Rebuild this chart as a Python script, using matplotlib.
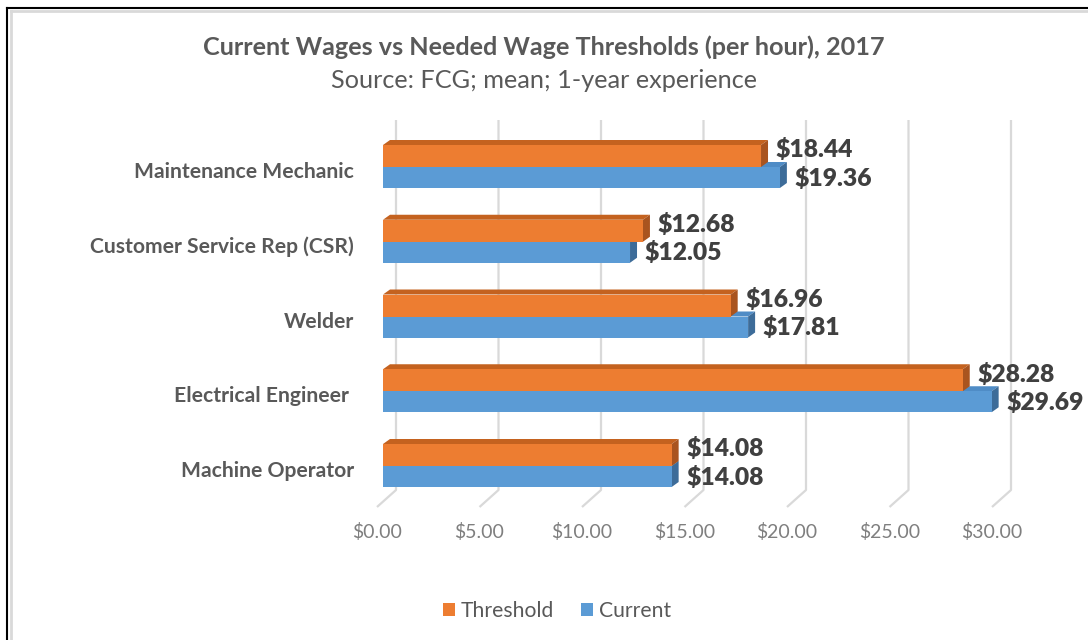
import numpy as np
import matplotlib
matplotlib.use("Agg")
import matplotlib.pyplot as plt
from matplotlib.patches import Polygon
from matplotlib.lines import Line2D

plt.rcParams["font.family"] = ["Lato", "DejaVu Sans"]

# data (bottom to top)
categories = ["Machine Operator", "Electrical Engineer ", "Welder",
              "Customer Service Rep (CSR)", "Maintenance Mechanic"]
threshold = [14.08, 28.28, 16.96, 12.68, 18.44]
current = [14.08, 29.69, 17.81, 12.05, 19.36]
xticks = [0, 5, 10, 15, 20, 25, 30]

ORANGE, ORANGE_TOP, ORANGE_SIDE = "#ED7D31", "#C4621F", "#A9541F"
BLUE, BLUE_TOP, BLUE_SIDE = "#5B9BD5", "#4F8CC6", "#3D6C99"
GRID = "#D9D9D9"
TXT = "#595959"

W, H = 1088, 640
fig = plt.figure(figsize=(W / 100, H / 100), dpi=100)

# pixel layout of the plot area (x: $0 at px 383, 20.5 px per $; y: 74.75 px per category)
px_per_x, px_per_y = 20.5, 74.75
left_px, right_px, top_px, bot_px = 383, 1088, 110, 507
ax = fig.add_axes([left_px / W, 1 - bot_px / H, (right_px - left_px) / W, (bot_px - top_px) / H])
x_max = (right_px - left_px) / px_per_x
y0 = 466  # pixel row of bottom category centre
ax.set_xlim(0, x_max)
ax.set_ylim((y0 - bot_px) / px_per_y, (y0 - top_px) / px_per_y)
ax.axis("off")

# back-wall gridlines plus the slanted floor lines
gx, gtop, gbot = 13 / px_per_x, (y0 - 120) / px_per_y, (y0 - 490) / px_per_y
fx, fy = -6 / px_per_x, (y0 - 507) / px_per_y
for v in xticks:
    ax.plot([v + gx, v + gx, v + fx], [gtop, gbot, fy], color=GRID, lw=1.6,
            zorder=0, clip_on=False, solid_capstyle="butt")
    ax.text(v + fx, (y0 - 532) / px_per_y, f"${v:.2f}", ha="center", va="center",
            fontsize=14, color="#7F7F7F", clip_on=False)

# 3D bars
dx, dy = 7 / px_per_x, 5 / px_per_y
h_o, h_b = 22 / px_per_y, 21 / px_per_y
pos = np.arange(len(categories))


def box(y_lo, h, v, top, side, z):
    ax.add_patch(Polygon([(0, y_lo + h), (v, y_lo + h), (v + dx, y_lo + h + dy), (dx, y_lo + h + dy)],
                         closed=True, fc=top, ec="none", zorder=z))
    ax.add_patch(Polygon([(v, y_lo), (v + dx, y_lo + dy), (v + dx, y_lo + h + dy), (v, y_lo + h)],
                         closed=True, fc=side, ec="none", zorder=z))


for i, (t, c) in enumerate(zip(threshold, current)):
    box(i - h_b, h_b, c, BLUE_TOP, BLUE_SIDE, 2)
    ax.barh(i - h_b, c, height=h_b, align="edge", color=BLUE, zorder=3)
    box(i, h_o, t, ORANGE_TOP, ORANGE_SIDE, 4)
    ax.barh(i, t, height=h_o, align="edge", color=ORANGE, zorder=5)
    ax.annotate(f"${t:.2f}", (t, i + 0.23), xytext=(10.5, 0), textcoords="offset points",
                ha="left", va="center", fontsize=17.7, fontweight="heavy", color="#404040", zorder=6)
    ax.annotate(f"${c:.2f}", (c, i - 0.15), xytext=(10.5, 0), textcoords="offset points",
                ha="left", va="center", fontsize=17.7, fontweight="heavy", color="#404040", zorder=6)
    ax.text(-29 / px_per_x, i - 5 / px_per_y, categories[i], ha="right", va="center",
            fontsize=15.2, fontweight="bold", color=TXT, clip_on=False)

# titles
fig.text(0.5, 1 - 47 / H, "Current Wages vs Needed Wage Thresholds (per hour), 2017",
         ha="center", va="center", fontsize=18.2, fontweight="bold", color=TXT)
fig.text(0.5, 1 - 80 / H, "Source: FCG; mean; 1-year experience",
         ha="center", va="center", fontsize=18.2, color=TXT)

# legend
handles = [plt.Rectangle((0, 0), 1, 1, fc=ORANGE), plt.Rectangle((0, 0), 1, 1, fc=BLUE)]
leg = fig.legend(handles, ["Threshold", "Current"], loc="center", bbox_to_anchor=(557 / W, 1 - 611 / H),
                 ncol=2, frameon=False, fontsize=15.2, handlelength=0.57, handleheight=0.57,
                 handletextpad=0.3, columnspacing=1.25)
for t in leg.get_texts():
    t.set_color(TXT)

# chart frame (black outer edge on top/left, light inner border)
fig.add_artist(Line2D([7 / W, 7 / W], [0, 1 - 8 / H], color="black", lw=1.5))
fig.add_artist(Line2D([7 / W, 1], [1 - 8 / H, 1 - 8 / H], color="black", lw=1.5))
fig.add_artist(Line2D([11 / W, 11 / W], [0, 1 - 11 / H], color=GRID, lw=2))
fig.add_artist(Line2D([11 / W, 1], [1 - 11 / H, 1 - 11 / H], color=GRID, lw=2))

fig.savefig("out.png", dpi=100, facecolor="white")
